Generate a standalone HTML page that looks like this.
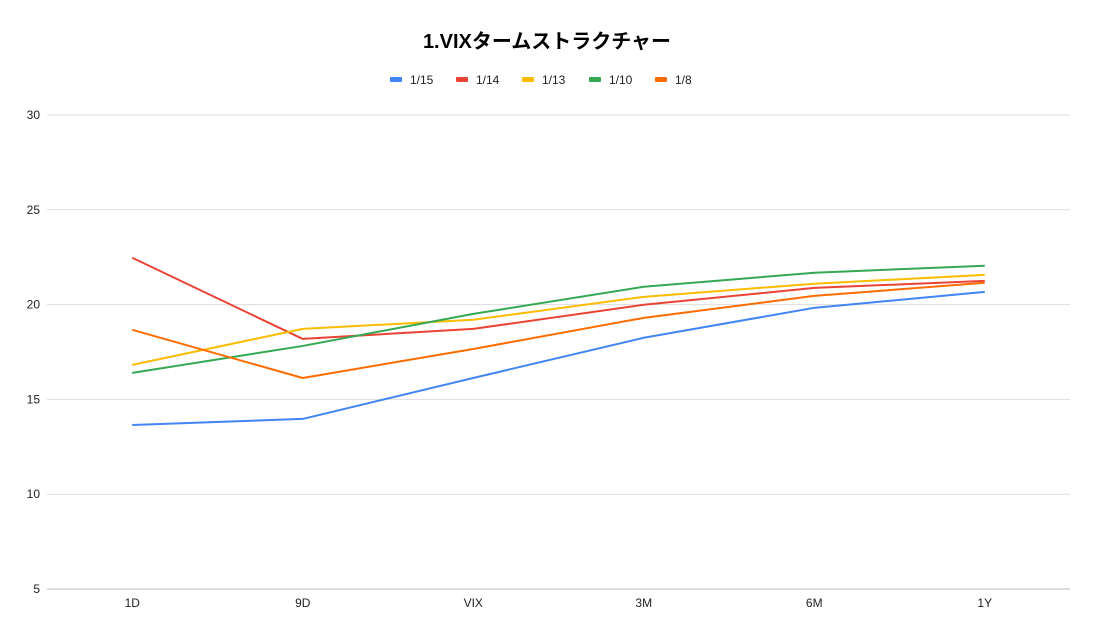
<!DOCTYPE html>
<html><head><meta charset="utf-8"><style>
body{margin:0;background:#fff;font-family:"Liberation Sans","Noto Sans CJK JP",sans-serif}
</style></head><body>
<svg id="c" width="1095" height="632" xmlns="http://www.w3.org/2000/svg">
<rect width="1095" height="632" fill="#fff"/>
<text x="547" y="48" text-anchor="middle" font-size="20" font-weight="bold" fill="#000" font-family="Liberation Sans,Noto Sans CJK JP,sans-serif">1.VIXタームストラクチャー</text>
<g id="grid"></g><g id="legend"></g><g id="lines"></g>
</svg>
<script>
const categories=["1D","9D","VIX","3M","6M","1Y"];
const seriesNames=["1/15","1/14","1/13","1/10","1/8"];
const s115=[13.65,13.97,16.13,18.25,19.83,20.67];
const s114=[22.47,18.19,18.72,19.99,20.88,21.25];
const s113=[16.82,18.72,19.2,20.41,21.1,21.57];
const s110=[16.4,17.82,19.51,20.94,21.68,22.05];
const s108=[18.67,16.13,17.66,19.3,20.46,21.15];
const yTicks=[5,10,15,20,25,30];
const NS="http://www.w3.org/2000/svg";
const colors=["#4285f4","#ea4335","#fbbc04","#34a853","#ff6d01"];
const data=[s115,s114,s113,s110,s108];
const L=47,R=1070,T=115,B=589,ymin=5,ymax=30;
const y=v=>B-(v-ymin)/(ymax-ymin)*(B-T);
const bw=(R-L)/categories.length;
const x=i=>L+bw*(i+0.5);
function mk(t,a,p){const e=document.createElementNS(NS,t);for(const k in a)e.setAttribute(k,a[k]);p.appendChild(e);return e;}
const g=document.getElementById("grid");
yTicks.forEach(v=>{
 const l=mk("line",{x1:L,x2:R,y1:y(v),y2:y(v),stroke:v===ymin?"#bbb":"#ddd","stroke-width":1},g);
 
 
 const t=mk("text",{x:40,y:y(v)+4,"text-anchor":"end","font-size":12,fill:"#222"},g);
 t.textContent=v;
 
 
});
categories.forEach((c,i)=>{
 const t=mk("text",{x:x(i),y:607,"text-anchor":"middle","font-size":12,fill:"#222"},g);
 t.textContent=c;
 
 
});
const lg=document.getElementById("legend");
const lx=[390,456,522,589,655];
seriesNames.forEach((n,i)=>{
 const gi=mk("g",{},lg);
 
 
 mk("rect",{x:lx[i],y:77,width:12,height:5,rx:1,fill:colors[i]},gi);
 const t=mk("text",{x:lx[i]+20,y:84,"font-size":12,fill:"#222"},gi);
 t.textContent=n;
});
const lgs=document.getElementById("lines");
data.forEach((d,si)=>{
 const p=mk("polyline",{points:d.map((v,i)=>x(i)+","+y(v)).join(" "),fill:"none",stroke:colors[si],"stroke-width":2,"stroke-linejoin":"round"},lgs);
 
 
});
</script>
</body></html>
